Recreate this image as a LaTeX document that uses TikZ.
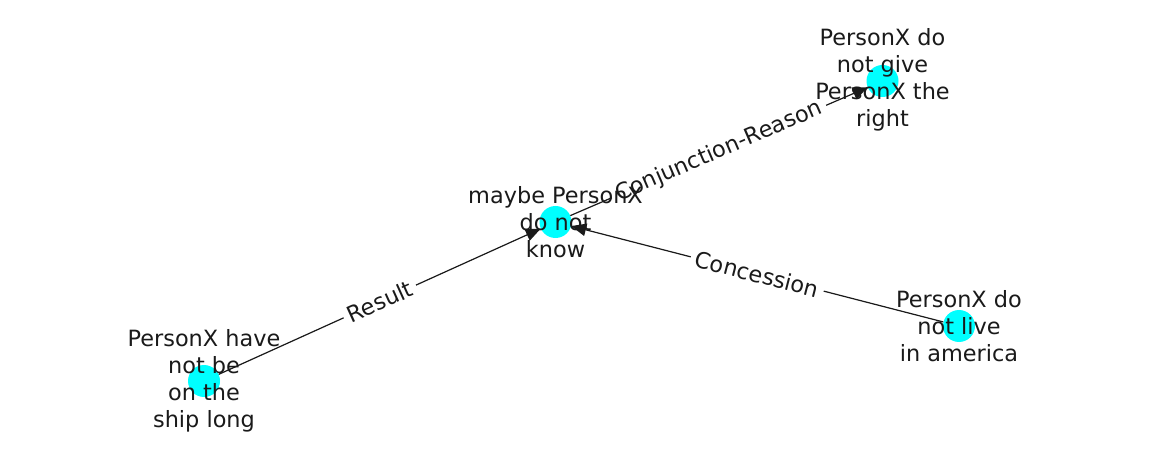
\documentclass[tikz,border=0pt]{standalone}
\usepackage{fontspec}
\setmainfont{DejaVu Sans}
\usetikzlibrary{arrows.meta}
\definecolor{aqua}{RGB}{0,255,255}
\definecolor{ink}{RGB}{26,26,26}
\begin{document}
\begin{tikzpicture}[
  dot/.style={circle,fill=aqua,minimum size=32pt,inner sep=0pt},
  lbl/.style={align=center,font=\fontsize{22.4}{27}\selectfont,inner sep=0pt,text=ink},
  edge/.style={-{Triangle[length=15pt,width=12.5pt]},line width=1.2pt,draw=ink,fill=ink},
  elbl/.style={fill=white,font=\fontsize{22.4}{27}\selectfont,inner xsep=5pt,inner ysep=2pt,sloped,text=ink}
]
\useasboundingbox (0,0) rectangle (1162pt,-462pt);
\node[dot] (A) at (555.5pt,-222pt) {};
\node[dot] (B) at (882.5pt,-81pt) {};
\node[dot] (C) at (959pt,-326pt) {};
\node[dot] (D) at (204pt,-381pt) {};
\draw[edge] (A) -- (B) node[midway,elbl] {Conjunction-Reason};
\draw[edge] (C) -- (A) node[midway,elbl] {Concession};
\draw[edge] (D) -- (A) node[midway,elbl] {Result};
\node[lbl] (Al) at (555.5pt,-222pt) {maybe PersonX\\do not\\know};
\node[lbl] (Bl) at (882.5pt,-80pt) {PersonX do\\not give\\PersonX the\\right};
\node[lbl] (Cl) at (959pt,-326pt) {PersonX do\\not live\\in america};
\node[lbl] (Dl) at (204pt,-381pt) {PersonX have\\not be\\on the\\ship long};
\end{tikzpicture}
\end{document}
